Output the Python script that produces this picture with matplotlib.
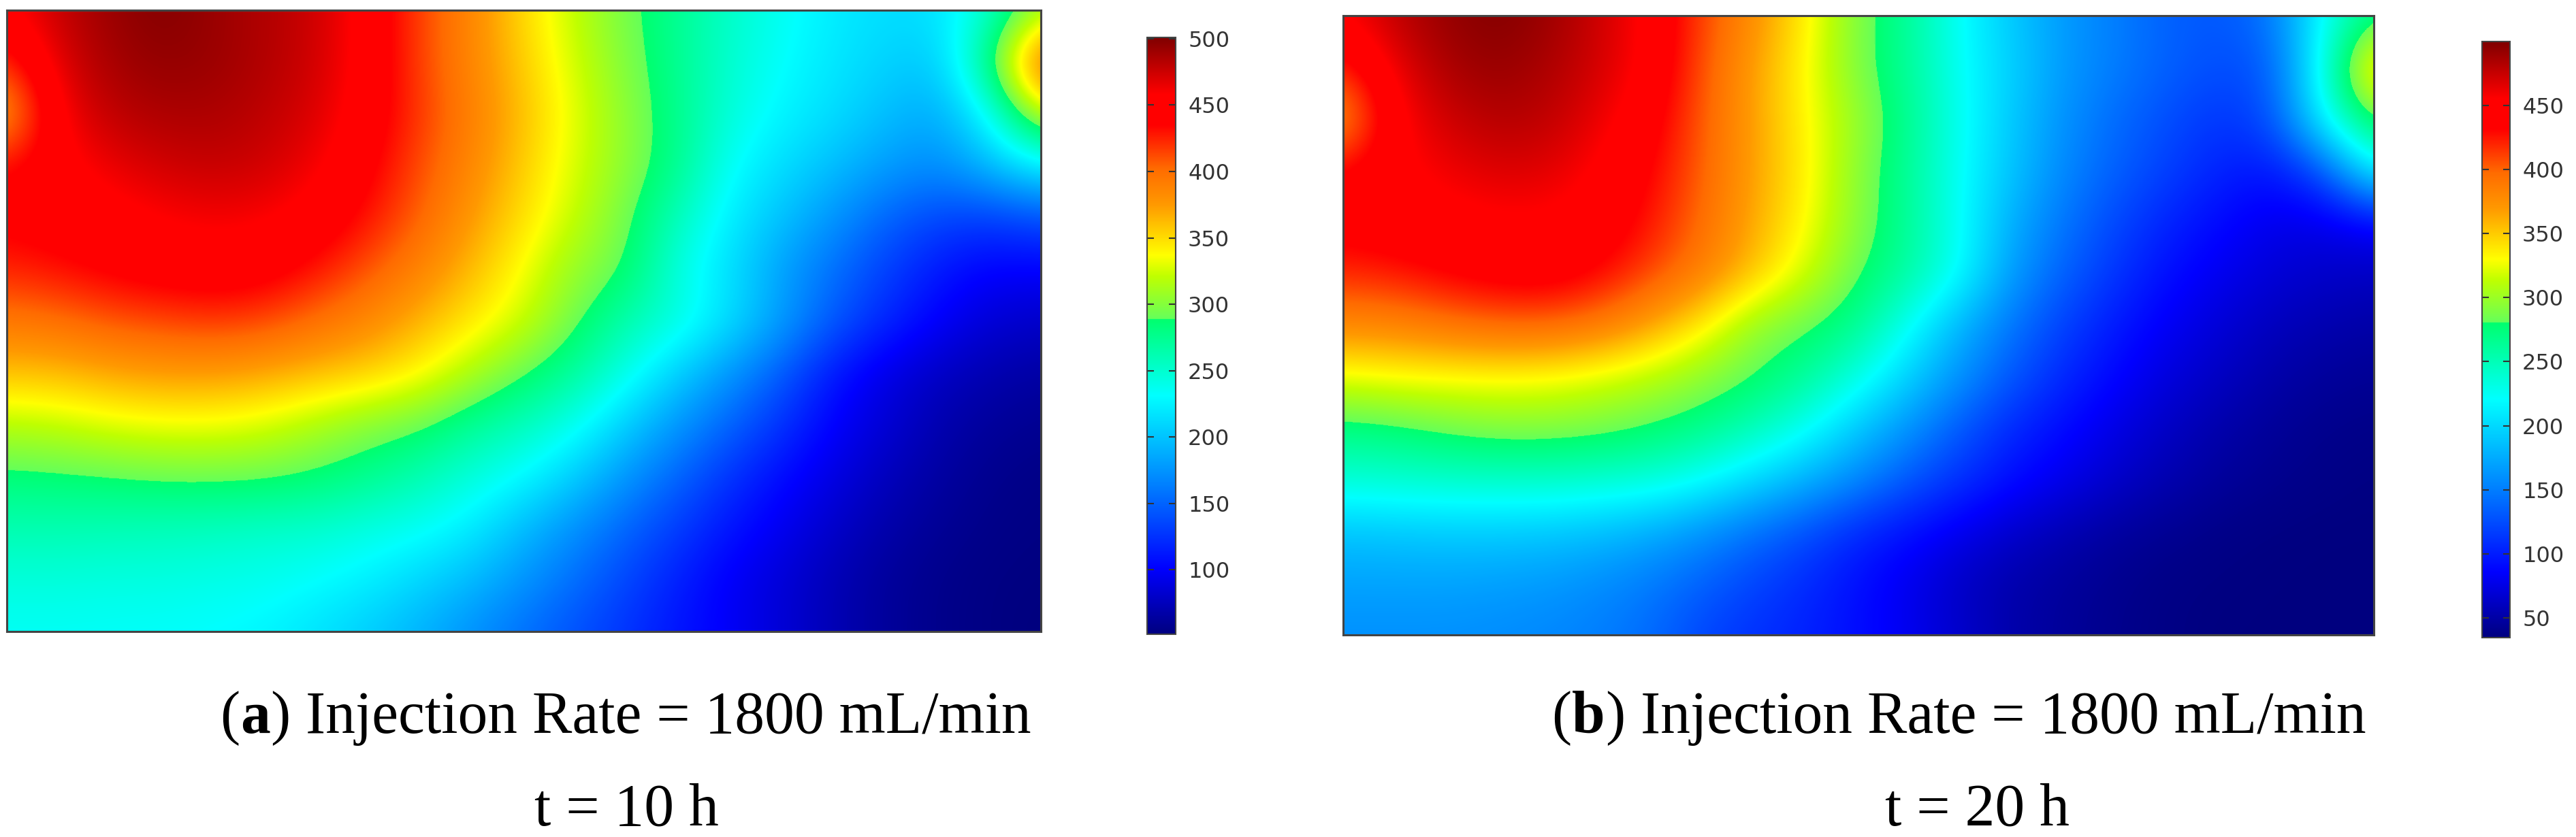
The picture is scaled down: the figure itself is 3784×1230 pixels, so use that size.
import numpy as np
import matplotlib
matplotlib.use("Agg")
import matplotlib.pyplot as plt
from matplotlib.colors import LinearSegmentedColormap

# temperature field, 13 rows (top to bottom) x 21 columns
field_10h = np.array([
    [455, 478, 492, 500, 492, 484, 475, 450, 415, 385, 350, 320, 293, 274, 252, 236, 222, 214, 216, 249, 310],
    [420, 470, 488, 495, 492, 484, 474, 450, 415, 385, 355, 325, 297, 274, 249, 232, 219, 208, 202, 285, 420],
    [370, 460, 480, 486, 486, 480, 470, 447, 418, 390, 360, 330, 302, 276, 245, 226, 214, 197, 186, 232, 330],
    [435, 450, 465, 474, 478, 474, 462, 440, 412, 385, 355, 327, 302, 276, 232, 214, 197, 180, 170, 197, 226],
    [440, 445, 450, 458, 462, 460, 450, 430, 405, 375, 348, 322, 293, 257, 222, 199, 175, 150, 135, 130, 140],
    [425, 432, 440, 446, 448, 445, 430, 410, 388, 362, 335, 305, 291, 240, 214, 180, 155, 132, 112, 100, 100],
    [395, 400, 410, 415, 420, 415, 400, 385, 365, 345, 325, 293, 262, 245, 215, 180, 145, 120, 100, 85, 80],
    [360, 362, 370, 375, 375, 370, 362, 355, 340, 315, 291, 270, 240, 205, 175, 145, 110, 90, 78, 70, 65],
    [318, 322, 330, 334, 334, 328, 314, 300, 292, 272, 258, 238, 205, 175, 150, 125, 100, 85, 70, 62, 58],
    [283, 285, 288, 292, 293, 292, 286, 276, 262, 245, 230, 205, 175, 150, 125, 105, 90, 75, 65, 57, 54],
    [262, 262, 260, 258, 256, 252, 250, 242, 236, 222, 195, 172, 150, 130, 110, 95, 80, 68, 60, 55, 53],
    [245, 245, 243, 243, 240, 238, 232, 224, 210, 195, 175, 155, 135, 115, 97, 85, 72, 62, 56, 53, 52],
    [234, 234, 233, 232, 230, 226, 216, 204, 190, 172, 155, 140, 125, 110, 98, 85, 72, 62, 56, 53, 51],
])

field_20h = np.array([
    [455, 478, 492, 499, 490, 472, 450, 410, 375, 335, 288, 262, 221, 190, 165, 150, 135, 130, 145, 222, 270],
    [420, 462, 485, 492, 484, 470, 450, 405, 365, 330, 287, 262, 222, 195, 165, 150, 135, 125, 130, 230, 360],
    [370, 452, 472, 482, 478, 462, 440, 402, 365, 332, 298, 265, 225, 190, 160, 140, 125, 112, 125, 221, 290],
    [435, 450, 460, 468, 466, 452, 432, 400, 365, 335, 292, 262, 222, 188, 155, 135, 118, 103, 95, 125, 222],
    [440, 445, 448, 452, 452, 445, 425, 395, 362, 330, 292, 262, 222, 175, 145, 122, 103, 90, 78, 76, 85],
    [420, 425, 435, 442, 445, 432, 410, 385, 352, 318, 282, 258, 222, 165, 135, 112, 92, 80, 70, 65, 62],
    [380, 382, 392, 400, 400, 390, 365, 335, 295, 283, 266, 223, 178, 145, 118, 98, 82, 70, 60, 54, 50],
    [325, 330, 330, 330, 328, 320, 310, 295, 281, 262, 232, 195, 160, 130, 105, 88, 72, 62, 52, 46, 43],
    [270, 275, 285, 292, 292, 288, 279, 268, 250, 225, 190, 160, 130, 105, 90, 75, 62, 52, 45, 40, 38],
    [238, 240, 242, 243, 243, 240, 236, 222, 200, 178, 155, 130, 110, 92, 78, 65, 54, 46, 41, 38, 36],
    [188, 190, 192, 192, 190, 185, 175, 160, 142, 125, 105, 92, 78, 65, 55, 47, 42, 38, 36, 35, 35],
    [170, 170, 170, 168, 165, 158, 148, 135, 120, 107, 92, 78, 62, 52, 46, 41, 37, 36, 35, 35, 35],
    [160, 160, 160, 158, 155, 150, 140, 120, 110, 102, 92, 80, 65, 52, 45, 40, 37, 35, 35, 35, 35],
])

ticks_10h = [100, 150, 200, 250, 300, 350, 400, 450, 500]
ticks_20h = [50, 100, 150, 200, 250, 300, 350, 400, 450]
range_10h = (51.4, 501)
range_20h = (34.7, 499.7)

# jet-like, but the scale in the picture jumps over pure green and holds red for a while
cmap_stops = [0, .11, .25, .40, .528, .529, .60, .635, .72, .78, .853, .905, 1]
cmap_colors = [(0, 0, .5), (0, 0, 1), (0, .5, 1), (0, 1, 1), (0, 1, .43), (.4, 1, .35),
               (.75, 1, 0), (1, 1, 0), (1, .6, 0), (1, .42, 0), (1, 0, 0), (1, 0, 0), (.5, 0, 0)]
fem_jet = LinearSegmentedColormap.from_list("fem_jet", list(zip(cmap_stops, cmap_colors)), N=1024)

W, H = 3784, 1230
fig = plt.figure(figsize=(W / 100, H / 100), dpi=100)


def px_axes(x0, y0, x1, y1):
    return fig.add_axes([x0 / W, 1 - y1 / H, (x1 - x0) / W, (y1 - y0) / H])


def panel(box, cbox, data, vrange, ticks):
    ax = px_axes(*box)
    im = ax.imshow(data, cmap=fem_jet, vmin=vrange[0], vmax=vrange[1], aspect="auto",
                   interpolation="bicubic", interpolation_stage="data")
    # grid values sit on the frame, not half a cell inside it
    ax.set_xlim(0, data.shape[1] - 1)
    ax.set_ylim(data.shape[0] - 1, 0)
    ax.set_xticks([])
    ax.set_yticks([])
    for s in ax.spines.values():
        s.set_linewidth(2.2)
        s.set_color("#444444")

    cax = px_axes(*cbox)
    cb = fig.colorbar(im, cax=cax)
    cb.set_ticks(ticks)
    cax.tick_params(axis="y", direction="in", left=True, right=True, length=7, width=1.5,
                    color="#333333", labelsize=23, labelcolor="#333333", pad=13)
    cb.outline.set_linewidth(1.5)
    cb.outline.set_edgecolor("#444444")


def caption(x, y, letter, line2, x2):
    # bold letter in the middle, so the pieces are placed one after the other
    r = fig.canvas.get_renderer()
    for s, w in [("(", "normal"), (letter, "bold"), (") Injection Rate = 1800 mL/min", "normal")]:
        t = fig.text(x / W, 1 - y / H, s, family="Liberation Serif", fontsize=63, weight=w,
                     color="black", va="baseline")
        x = t.get_window_extent(r).x1 + 1
    fig.text(x2 / W, 1 - 1213 / H, line2, family="Liberation Serif", fontsize=63,
             color="black", va="baseline", ha="center")


panel((10, 15, 1529, 928), (1685, 55, 1727, 932), field_10h, range_10h, ticks_10h)
panel((1973, 23, 3487, 933), (3646, 61, 3687, 937), field_20h, range_20h, ticks_20h)
caption(323, 1077, "a", "t = 10 h", 920)
caption(2279, 1077, "b", "t = 20 h", 2904)

fig.savefig("out.png", dpi=100)
